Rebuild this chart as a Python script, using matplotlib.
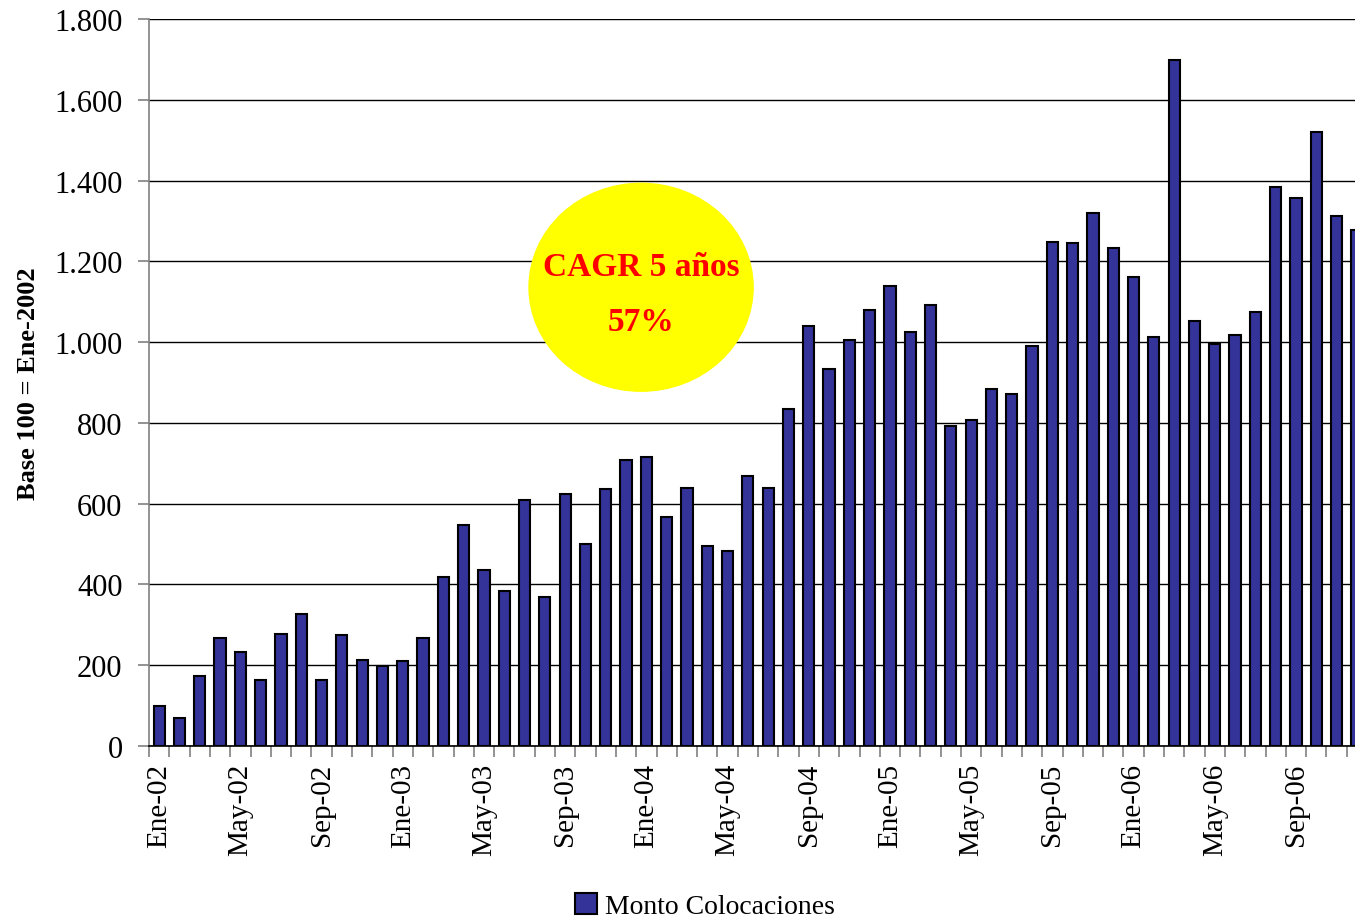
import matplotlib.pyplot as plt
from matplotlib.patches import Ellipse

plt.rcParams["font.family"] = ["Liberation Serif", "DejaVu Serif"]

# Monthly index, base 100 = Ene-2002
months = ["Ene", "Feb", "Mar", "Abr", "May", "Jun", "Jul", "Ago", "Sep", "Oct", "Nov", "Dic"]
years = ["02", "03", "04", "05", "06"]
labels = [f"{m}-{y}" for y in years for m in months]

values = [100, 70, 173, 267, 233, 163, 277, 327, 163, 275, 213, 198,
          210, 267, 418, 547, 436, 384, 609, 369, 624, 500, 636, 708,
          715, 567, 639, 495, 483, 668, 639, 834, 1040, 933, 1005, 1079,
          1139, 1025, 1092, 792, 807, 884, 871, 990, 1248, 1245, 1319, 1233,
          1161, 1012, 1698, 1052, 995, 1017, 1074, 1384, 1356, 1520, 1312, 1277]

yticks = list(range(0, 1801, 200))
ytick_labels = ["0", "200", "400", "600", "800", "1.000", "1.200", "1.400", "1.600", "1.800"]

fig = plt.figure(figsize=(13.55, 9.2), dpi=100)
ax = fig.add_axes([149 / 1355, 173 / 920, 1218 / 1355, 727 / 920])

x = list(range(len(values)))
ax.bar(x, values, width=0.55, color="#333399", edgecolor="black", linewidth=1.5, zorder=3,
       label="Monto Colocaciones")

ax.set_xlim(-0.5, len(values) - 0.5)
ax.set_ylim(0, 1800)
ax.set_yticks(yticks)
ax.set_yticklabels(ytick_labels, fontsize=22)
ax.yaxis.grid(True, color="black", linewidth=1, zorder=0)
ax.set_axisbelow(True)

ax.set_xticks(x[::4])
ax.set_xticklabels(labels[::4], rotation=90, fontsize=21)
ax.set_xticks([i - 0.5 for i in x] + [len(values) - 0.5], minor=True)
ax.tick_params(axis="x", which="major", length=0, pad=12)
ax.tick_params(axis="x", which="minor", length=8, color="gray", width=1.2)
ax.tick_params(axis="y", length=8, color="gray", width=1.2, pad=11)

for s in ["top", "right"]:
    ax.spines[s].set_visible(False)
ax.spines["left"].set_color("gray")
ax.spines["left"].set_linewidth(1.2)
ax.spines["bottom"].set_color("black")
ax.spines["bottom"].set_linewidth(1.2)

ax.set_ylabel("Base 100 = Ene-2002", fontsize=19, fontweight="bold", labelpad=10)

# CAGR bubble
ell = Ellipse((0.404, 0.631), 0.184, 0.286, transform=ax.transAxes, color="yellow", zorder=2)
ax.add_patch(ell)
ax.text(0.404, 0.659, "CAGR 5 años", transform=ax.transAxes, ha="center", va="center",
        color="red", fontsize=24, fontweight="bold", zorder=4)
ax.text(0.404, 0.584, "57%", transform=ax.transAxes, ha="center", va="center",
        color="red", fontsize=24, fontweight="bold", zorder=4)

fig.legend(loc="center", bbox_to_anchor=(705 / 1355, 1 - 907 / 920), frameon=False,
           fontsize=20, handlelength=0.8, handleheight=0.8, handletextpad=0.3)

plt.savefig("out.png")
